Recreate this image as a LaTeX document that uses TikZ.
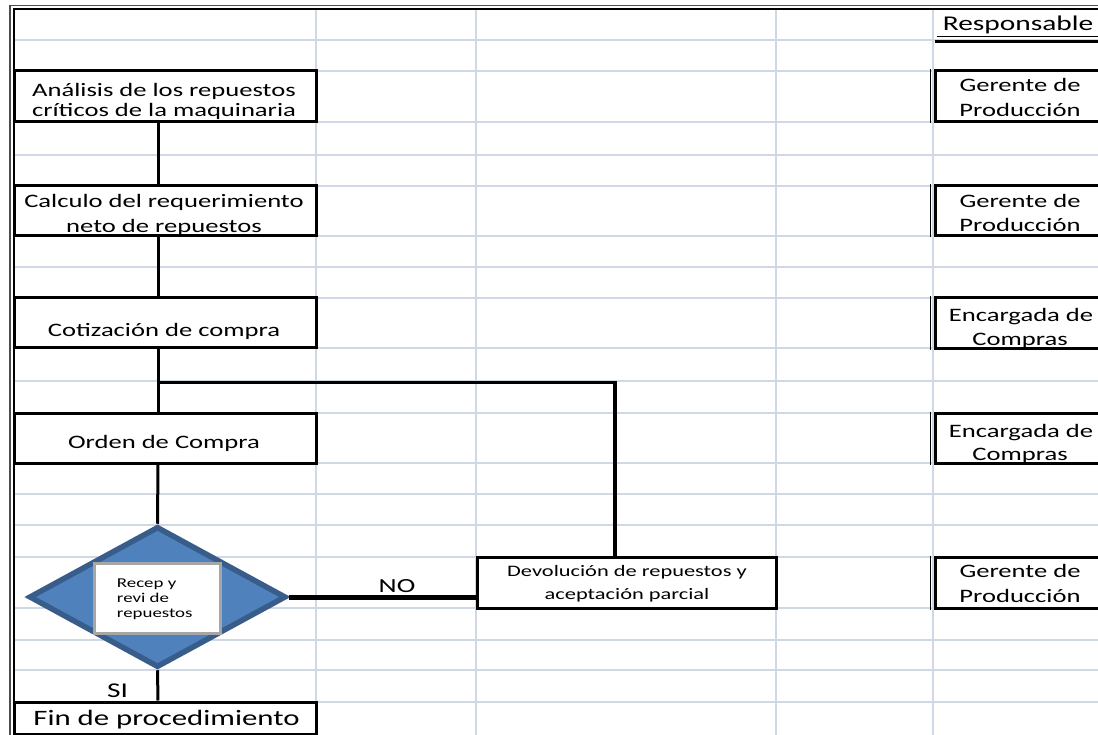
\documentclass[tikz,border=0pt]{standalone}
\usepackage{fontspec}
\usetikzlibrary{shapes.geometric}
\newfontfamily\xl[FakeStretch=1.4]{Carlito}
\definecolor{gridc}{HTML}{D0D7E5}
\definecolor{decfill}{HTML}{4F81BD}
\definecolor{decline}{HTML}{385D8A}
\definecolor{lblline}{HTML}{A6A6A6}

\begin{document}
\begin{tikzpicture}[x=1pt,y=-1pt,
  gridline/.style={draw=gridc, line width=2.2pt},
  cell/.style={draw=black, line width=3pt, fill=white, inner sep=0pt},
  conn/.style={draw=black, line width=3pt},
  txt/.style={inner sep=0pt, anchor=base, font=\xl\fontsize{19}{19}\selectfont},
  big/.style={font=\xl\fontsize{21}{21}\selectfont},
  mid/.style={font=\xl\fontsize{16}{16}\selectfont},
  small/.style={inner sep=0pt, anchor=base west, font=\xl\fontsize{13.5}{13.5}\selectfont}]
\useasboundingbox (0,0) rectangle (1098,735);

% spreadsheet grid
\foreach \y in {40,71,122,155,186,236,267,298,348,381,413,463,494,525,557,608,640,670,702}
  \draw[gridline] (14,\y) -- (1098,\y);
\foreach \x in {316,476,776,933}
  \draw[gridline] (\x,9) -- (\x,735);

% sheet frame (double line)
\draw[black!70, line width=1.5pt] (10,735) -- (10,5.5) -- (1098,5.5);
\draw[black, line width=2.5pt] (14,735) -- (14,9) -- (1098,9);

% header of the responsible column
\node[txt, big] (hdr) at (1018,30.7) {Responsable};
\draw[line width=1pt] (937,37) -- (1098,37);
\draw[line width=3.5pt] (935,41.5) -- (1098,41.5);

% activity boxes
\node[cell, minimum width=302pt, minimum height=51pt] (b1) at (165,96.5) {};
\node[cell, minimum width=302pt, minimum height=50pt] (b2) at (165,211) {};
\node[cell, minimum width=302pt, minimum height=50pt] (b3) at (165,323) {};
\node[cell, minimum width=302pt, minimum height=50pt] (b4) at (165,438) {};
\node[cell, minimum width=302pt, minimum height=32pt] (fin) at (165,718) {};
\node[cell, minimum width=299pt, minimum height=51pt] (dev) at (626.5,582.5) {};

% responsible boxes
\foreach \n/\yc/\h in {r1/96.5/51, r2/211/50, r3/323.5/51, r4/438/50, r5/582.5/51}{
  \node[cell, minimum width=175pt, minimum height=\h pt] (\n) at (1023,\yc) {};
  \draw[line width=1.3pt] ([xshift=-3.5pt]\n.north west) -- ([xshift=-3.5pt]\n.south west);
}

% decision
\node[diamond, draw=decline, fill=decfill, line width=5.5pt, minimum width=257pt,
      minimum height=141pt, inner sep=0pt] (dec) at (157.5,597) {};
\node[draw=lblline, fill=white, line width=3.5pt, minimum width=126pt,
      minimum height=70pt, inner sep=0pt] (lab) at (157.5,598.5) {};

% connectors
\coordinate (spine) at (158,0);
\draw[conn] (spine |- b1.south) -- (spine |- b2.north);
\draw[conn] (spine |- b2.south) -- (spine |- b3.north);
\draw[conn] (spine |- b3.south) -- (spine |- b4.north);
\draw[conn] (spine |- b4.south) -- (dec.north);
\draw[conn] (dec.south) -- (spine |- fin.north);
\coordinate (fork) at (158,382.5);
\coordinate (back) at (615,382.5);
\draw[conn, line width=3.3pt] (fork) -- (back) -- (back |- dev.north);
\draw[conn, line width=5pt] (dec.east) -- (dec.east -| dev.west);

% texts
\node[txt] (b1a) at (164,97) {Análisis de los repuestos};
\node[txt] (b1b) at (164,117) {críticos de la maquinaria};
\node[txt] (b2a) at (164,208) {Calculo del requerimiento};
\node[txt] (b2b) at (164,233) {neto de repuestos};
\node[txt] (b3a) at (164,337) {Cotización de compra};
\node[txt] (b4a) at (164,448) {Orden de Compra};
\node[txt, font=\xl\fontsize{22}{22}\selectfont] (fina) at (166.5,725) {Fin de procedimiento};

\node[txt] (r1a) at (1020,92) {Gerente de};
\node[txt] (r1b) at (1020,117) {Producción};
\node[txt] (r2a) at (1020,208) {Gerente de};
\node[txt] (r2b) at (1020,232) {Producción};
\node[txt] (r3a) at (1021,322) {Encargada de};
\node[txt] (r3b) at (1020,345) {Compras};
\node[txt] (r4a) at (1021,437) {Encargada de};
\node[txt] (r4b) at (1020,460) {Compras};
\node[txt] (r5a) at (1020,577) {Gerente de};
\node[txt] (r5b) at (1020,602) {Producción};

\node[txt, mid] (deva) at (627,576.7) {Devolución de repuestos y};
\node[txt, mid] (devb) at (627,599.3) {aceptación parcial};

\node[small] (laba) at (116.7,587.3) {Recep y};
\node[small] (labb) at (116.7,602.3) {revi de};
\node[small] (labc) at (116.7,617.3) {repuestos};

\node[txt, font=\xl\fontsize{20}{20}\selectfont] (no) at (397,592) {NO};
\node[txt, font=\xl\fontsize{21}{21}\selectfont] (si) at (117.5,697) {SI};
\end{tikzpicture}
\end{document}
